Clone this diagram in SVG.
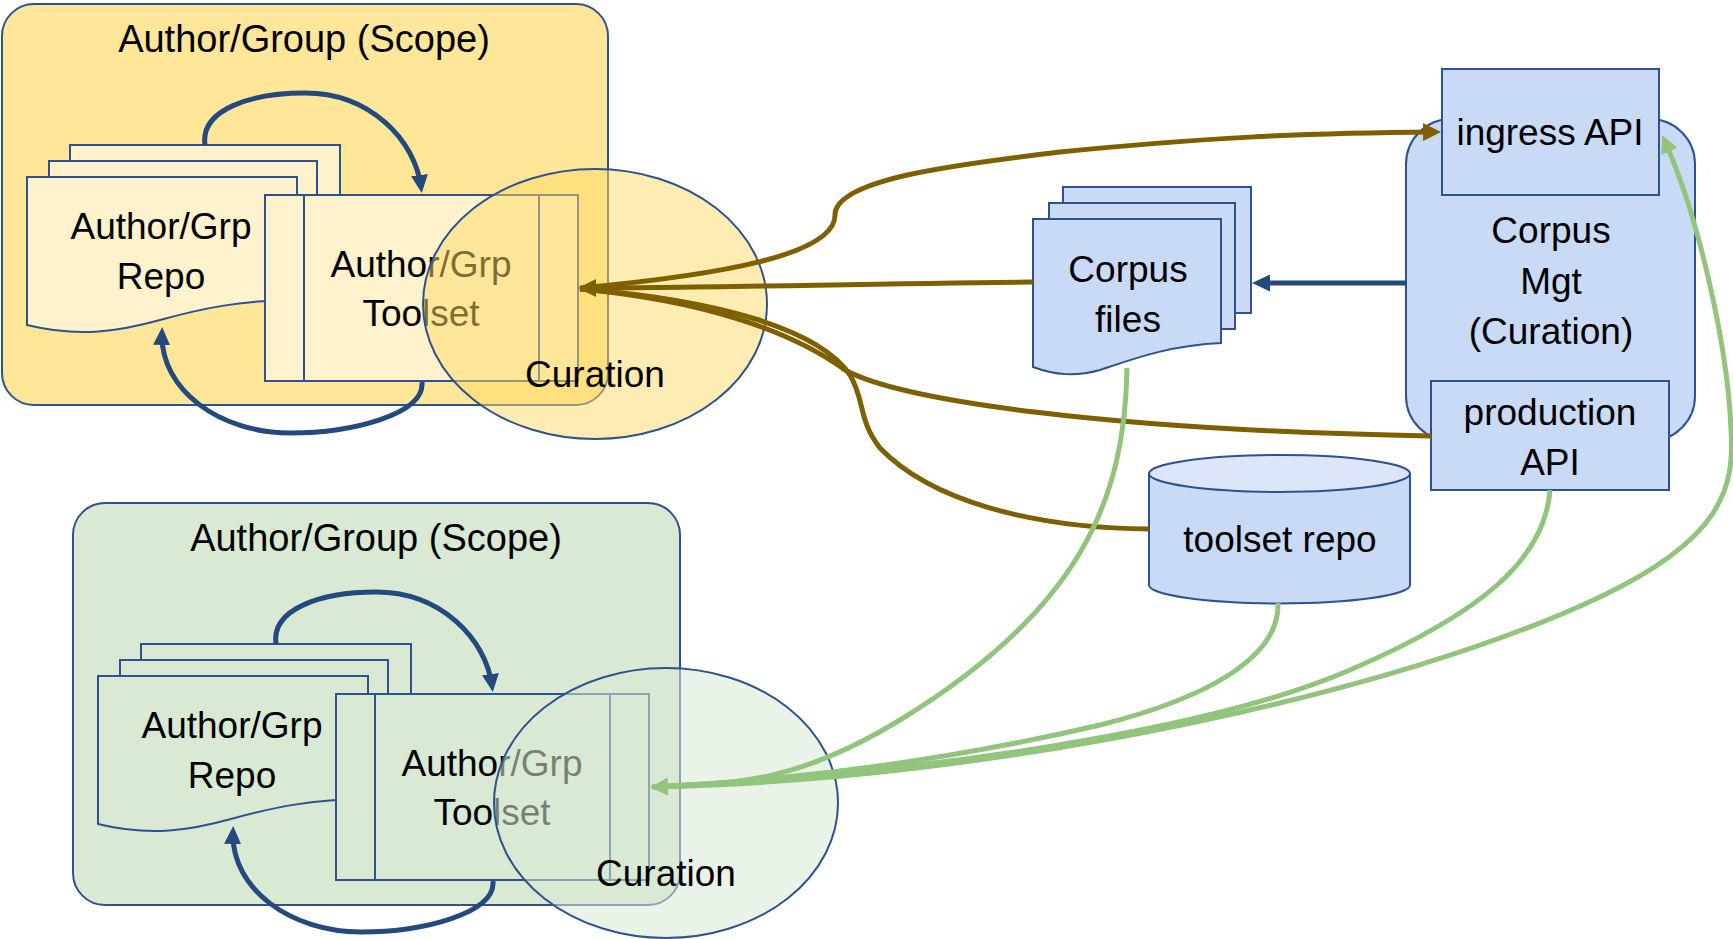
<svg xmlns="http://www.w3.org/2000/svg" width="1733" height="939" viewBox="0 0 1733 939">
<style>
.t{font-family:"Liberation Sans",Arial,sans-serif;font-size:37px;fill:#000;text-anchor:middle}
.title{font-size:38px}
.ns{stroke:#2F528F;stroke-width:2}
.brown{fill:none;stroke:#7F6000;stroke-width:5}
.green{fill:none;stroke:#93C47D;stroke-width:5}
.loop{fill:none;stroke:#24497F;stroke-width:5}
.blue{fill:none;stroke:#24497F;stroke-width:5}
.yb{fill:#FFE699}
.yl{fill:#FFF2CC}
.gb{fill:#D9E9D3}
.bf{fill:#C8DAF6}
</style>
<defs>
<marker id="mb" viewBox="0 0 18 18" refX="12" refY="9" markerWidth="18" markerHeight="18" markerUnits="userSpaceOnUse" orient="auto"><path d="M0,0 L18,9 L0,18 Z" fill="#7F6000"/></marker>
<marker id="mg" viewBox="0 0 18 18" refX="12" refY="9" markerWidth="18" markerHeight="18" markerUnits="userSpaceOnUse" orient="auto"><path d="M0,0 L18,9 L0,18 Z" fill="#93C47D"/></marker>
<marker id="ml" viewBox="0 0 18 17" refX="12" refY="8.5" markerWidth="18" markerHeight="17" markerUnits="userSpaceOnUse" orient="auto"><path d="M0,0 L18,8.5 L0,17 Z" fill="#24497F"/></marker>
</defs>
<rect width="1733" height="939" fill="#fff"/>

<g id="scope-top">
<rect x="2" y="4" width="606" height="401" rx="32" class="yb ns"/>
<text x="304" y="52" class="t title">Author/Group (Scope)</text>
</g>
<g id="repo-top">
<rect x="70" y="145" width="270" height="140" class="yl ns"/>
<rect x="49" y="161" width="268" height="125" class="yl ns"/>
<path d="M27,177 H297 V300 C240,300 200,309 160,320 C120,331 80,338 27,325 Z" class="yl ns"/>
<text x="161" y="239" class="t">Author/Grp</text>
<text x="161" y="289" class="t">Repo</text>
</g>
<g id="toolset-top">
<rect x="265" y="195" width="313" height="186" class="yl ns"/>
<line x1="304" y1="195" x2="304" y2="381" class="ns"/>
<line x1="539" y1="195" x2="539" y2="381" class="ns"/>
<text x="421" y="277" class="t">Author/Grp</text>
<text x="421" y="326" class="t">Toolset</text>
</g>
<g id="curation-top">
<ellipse cx="595" cy="304" rx="172" ry="135" fill="#FFD966" fill-opacity="0.5" class="ns"/>
<text x="595" y="387" class="t">Curation</text>
</g>

<g id="scope-bottom">
<rect x="73" y="503" width="607" height="402" rx="32" class="gb ns"/>
<text x="376" y="551" class="t title">Author/Group (Scope)</text>
</g>
<g id="repo-bottom" transform="translate(71,499)">
<rect x="70" y="145" width="270" height="140" class="gb ns"/>
<rect x="49" y="161" width="268" height="125" class="gb ns"/>
<path d="M27,177 H297 V300 C240,300 200,309 160,320 C120,331 80,338 27,325 Z" class="gb ns"/>
<text x="161" y="239" class="t">Author/Grp</text>
<text x="161" y="289" class="t">Repo</text>
</g>
<g id="toolset-bottom" transform="translate(71,499)">
<rect x="265" y="195" width="313" height="186" class="gb ns"/>
<line x1="304" y1="195" x2="304" y2="381" class="ns"/>
<line x1="539" y1="195" x2="539" y2="381" class="ns"/>
<text x="421" y="277" class="t">Author/Grp</text>
<text x="421" y="326" class="t">Toolset</text>
</g>
<g id="curation-bottom" transform="translate(71,499)">
<ellipse cx="595" cy="304" rx="172" ry="135" fill="#D9E9D3" fill-opacity="0.55" class="ns"/>
<text x="595" y="387" class="t">Curation</text>
</g>

<g id="corpus-mgt">
<rect x="1406" y="119" width="289" height="322" rx="45" class="bf ns"/>
<text x="1551" y="243" class="t">Corpus</text>
<text x="1551" y="294" class="t">Mgt</text>
<text x="1551" y="344" class="t">(Curation)</text>
</g>
<g id="ingress-api">
<rect x="1442" y="69" width="217" height="126" class="bf ns"/>
<text x="1550" y="145" class="t">ingress API</text>
</g>
<g id="production-api">
<rect x="1431" y="381" width="238" height="109" class="bf ns"/>
<text x="1550" y="425" class="t">production</text>
<text x="1550" y="475" class="t">API</text>
</g>
<g id="corpus-files">
<rect x="1063" y="187" width="188" height="126" class="bf ns"/>
<rect x="1049" y="203" width="186" height="126" class="bf ns"/>
<path d="M1033,219 H1221 V343 C1170,345 1130,360 1100,370 C1075,377 1055,375 1033,367 Z" class="bf ns"/>
<text x="1128" y="282" class="t">Corpus</text>
<text x="1128" y="332" class="t">files</text>
</g>
<g id="toolset-repo">
<path d="M1149,473.5 V585 A130.5,18.5 0 0 0 1410,585 V473.5 Z" class="bf ns"/>
<ellipse cx="1279.5" cy="473.5" rx="130.5" ry="18.5" fill="#DCE6F8" class="ns"/>
<text x="1280" y="552" class="t">toolset repo</text>
</g>

<g id="connectors">
<path d="M205,145 C200,110 250,93 305,93 C370,93 415,140 421,187" class="loop" marker-end="url(#ml)"/>
<path d="M422,382 C425,415 350,433 290,433 C220,433 160,390 162,333" class="loop" marker-end="url(#ml)"/>
<path d="M276,644 C271,609 321,592 376,592 C441,592 486,639 492,686" class="loop" marker-end="url(#ml)"/>
<path d="M493,881 C496,914 421,932 361,932 C291,932 231,889 233,832" class="loop" marker-end="url(#ml)"/>

<path d="M1406,283 L1258,283" class="blue" marker-end="url(#ml)"/>

<path d="M1033,282 C850,284 700,288 584,288" class="brown" marker-end="url(#mb)"/>
<path d="M580,288 C720,275 835,255 835,215 C835,180 950,165 1060,152 C1200,138 1300,133 1435,132" class="brown" marker-end="url(#mb)"/>
<path d="M580,289 C700,300 790,330 845,370 C900,400 1100,430 1431,436" class="brown"/>
<path d="M580,289 C720,300 820,330 850,375 C865,400 858,420 880,448 C930,500 1030,528 1149,529" class="brown"/>

<path d="M1127,368 C1125,500 1080,610 900,720 C802,780 740,784 656,787" class="green" marker-end="url(#mg)"/>
<path d="M1278,603 C1280,660 1200,700 1100,725 C950,760 800,780 652,787" class="green"/>
<path d="M1550,490 C1545,560 1480,614 1350,670 C1200,735 900,775 652,787" class="green"/>
<path d="M652,787 C1000,780 1400,692 1600,597 C1720,540 1735,490 1731,430 C1728,350 1700,220 1664.5,140.5" class="green" marker-end="url(#mg)"/>
</g>
</svg>
